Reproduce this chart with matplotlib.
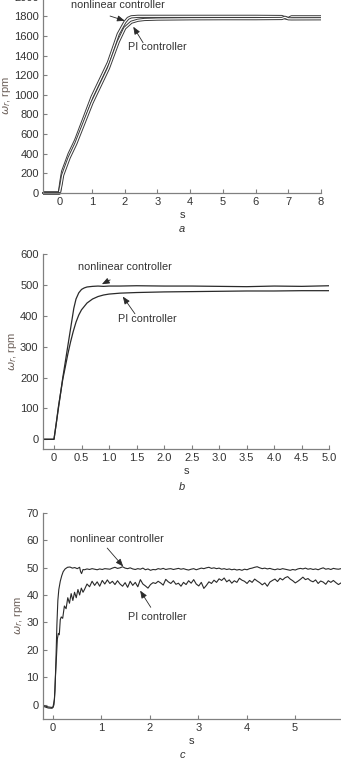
import numpy as np
import matplotlib
matplotlib.use("Agg")
import matplotlib.pyplot as plt

plt.rcParams['font.family'] = ['Liberation Sans', 'DejaVu Sans']

# ---------------- Panel a data ----------------
a_nl_t = [-0.5, 0.0, 0.05, 0.1, 0.3, 0.5, 1.0, 1.5, 1.8, 2.0, 2.1, 2.2, 2.4, 3.0, 4.0, 5.0, 6.0, 6.8, 6.9, 7.0, 7.1, 8.0]
a_nl_v = [0, 0, 120, 220, 400, 540, 980, 1330, 1620, 1740, 1780, 1795, 1800, 1800, 1800, 1800, 1800, 1798, 1785, 1778, 1795, 1795]
a_pi_t = [-0.5, 0.0, 0.05, 0.1, 0.3, 0.5, 1.0, 1.5, 1.8, 2.0, 2.2, 2.4, 2.6, 3.0, 4.0, 5.0, 6.0, 6.8, 6.9, 7.0, 7.1, 8.0]
a_pi_v = [0, 0, 80, 180, 360, 500, 920, 1270, 1540, 1680, 1740, 1760, 1768, 1772, 1775, 1776, 1776, 1778, 1790, 1775, 1774, 1775]

# ---------------- Panel b data ----------------
b_nl_t = [-0.2, 0.0, 0.04, 0.08, 0.12, 0.16, 0.2, 0.24, 0.28, 0.32, 0.36, 0.4, 0.45, 0.5, 0.55, 0.6, 0.65, 0.7, 0.8, 0.9, 1.0, 1.2, 1.5, 2.0, 2.5, 3.0, 3.5, 4.0, 4.5, 5.0]
b_nl_v = [0, 0, 50, 105, 150, 200, 245, 290, 335, 380, 425, 455, 475, 486, 491, 494, 495, 496, 497, 496, 497, 497, 498, 497, 497, 496, 495, 497, 496, 498]
b_pi_t = [-0.2, 0.0, 0.04, 0.08, 0.12, 0.16, 0.2, 0.25, 0.3, 0.35, 0.4, 0.45, 0.5, 0.6, 0.7, 0.8, 0.9, 1.0, 1.2, 1.5, 2.0, 2.5, 3.0, 3.5, 4.0, 4.5, 5.0]
b_pi_v = [0, 0, 50, 100, 150, 195, 230, 275, 315, 350, 380, 403, 420, 442, 455, 463, 468, 471, 474, 476, 478, 479, 480, 481, 481, 482, 482]

# ---------------- Panel c data ----------------
c_nl_t0 = [-0.2, -0.1, -0.02, 0.0, 0.02, 0.04, 0.06, 0.08, 0.10, 0.12, 0.15, 0.18, 0.21, 0.25, 0.3, 0.35, 0.4, 0.45, 0.5, 0.55, 0.57, 0.59, 0.62]
c_nl_v0 = [-0.6, -1.2, -1.3, -1.0, 0, 5, 16, 29, 38, 42, 45, 47, 48.5, 49.5, 50.1, 50.2, 49.8, 50.0, 49.6, 50.1, 48.5, 47.8, 49.3]
c_nl_v1 = [49.2, 49.5, 49.3, 49.6, 49.4, 49.2, 49.5, 49.3, 49.6, 49.5,
           49.4, 49.8, 50.1, 49.7, 49.9, 50.3, 49.8, 49.6, 49.9, 49.5,
           49.3, 49.6, 49.4, 49.8, 49.2, 49.5, 49.0, 49.3, 49.2, 49.6,
           49.4, 49.7, 49.3, 49.5, 49.6, 49.3, 49.5, 49.7, 49.4, 49.6,
           49.3, 49.1, 49.4, 49.6, 49.2, 49.5, 49.8, 49.6, 49.9, 50.1,
           49.7, 49.9, 49.6, 49.8, 49.4, 49.6, 49.3, 49.5, 49.2, 49.4,
           49.1, 49.3, 49.0, 49.4, 49.2, 49.6, 49.8, 50.1, 50.3, 49.9,
           49.6, 49.8, 49.5, 49.7, 49.4, 49.2, 49.5, 49.3, 49.6, 49.4,
           49.2, 49.0, 49.3, 49.1, 49.5, 49.7, 49.5, 49.8, 49.4, 49.6,
           49.3, 49.5, 49.2, 49.6, 49.9, 49.4, 49.6, 49.3, 49.7, 49.5,
           49.4, 49.6]
c_pi_t0 = [-0.2, -0.1, -0.02, 0.0, 0.03, 0.05, 0.07, 0.09, 0.11, 0.13, 0.15, 0.17, 0.2, 0.235, 0.27, 0.305, 0.34, 0.375, 0.41, 0.445, 0.48, 0.515, 0.55, 0.585, 0.62]
c_pi_v0 = [-0.3, -0.8, -1.0, -0.8, 2, 10, 17, 24, 26, 25.5, 31, 32, 31.5, 36, 35, 39, 37, 40.5, 38, 41, 39, 42, 40, 42.5, 41]
c_pi_v1 = [42, 44, 43, 45, 43.5, 44.8, 43.2, 45.3, 44, 45.5,
           44.2, 45, 43.8, 45.2, 44, 43.2, 44.5, 42.8, 45, 43.5,
           44.6, 43, 45.6, 44, 43.3, 42.5, 43.8, 44.5, 44.2, 45,
           44.4, 43.6, 45.7, 44.8, 44.2, 45.2, 43.9, 44.3, 43.2, 44.6,
           43.8, 45.2, 44.3, 45.6, 44, 43.3, 44.6, 42.4, 43.5, 44.8,
           44.2, 45.4, 44.6, 45.9, 45.3, 46.2, 44.8, 45.5, 44.3, 45.2,
           44.6, 46.1, 45.4, 45, 44.2, 45.3, 44.6, 45.8, 45.1, 44.5,
           43.7, 44.4, 43.2, 44.7, 45.3, 45.8, 44.9, 46.1, 45.5, 46.3,
           46.7, 45.8, 45.2, 44.4, 45, 45.7, 46.5, 45.6, 46, 45.2,
           44.8, 45.5, 44.2, 45.1, 44.7, 43.9, 45.2, 44.6, 45.3, 44.5,
           43.8, 44.4]

a_xticks = [0, 1, 2, 3, 4, 5, 6, 7, 8]
a_yticks = list(range(0, 2001, 200))
b_xticks = [0, 0.5, 1.0, 1.5, 2.0, 2.5, 3.0, 3.5, 4.0, 4.5, 5.0]
b_xticklabels = ['0', '0.5', '1.0', '1.5', '2.0', '2.5', '3.0', '3.5', '4.0', '4.5', '5.0']
b_yticks = list(range(0, 601, 100))
c_xticks = [0, 1, 2, 3, 4, 5]
c_yticks = list(range(0, 71, 10))

W, H = 341, 765
fig = plt.figure(figsize=(W / 100, H / 100), dpi=100)

LINE = '#2a2a2a'
SPINE = '#808080'
TXT = '#333333'
FS = 8.0
FSA = 7.8


def px_axes(left, right, top, bottom):
    return fig.add_axes([left / W, 1 - bottom / H, (right - left) / W, (bottom - top) / H])


def style(ax):
    for s in ['top', 'right']:
        ax.spines[s].set_visible(False)
    for s in ['left', 'bottom']:
        ax.spines[s].set_color(SPINE)
        ax.spines[s].set_linewidth(0.9)
    ax.tick_params(direction='in', length=3, width=0.8, color=SPINE,
                   labelsize=FS, labelcolor=TXT, pad=3)
    ax.set_facecolor('none')


def ylab(ax):
    ax.set_ylabel(r'$\omega_r$, rpm', fontsize=FS, color='#6e625c', labelpad=1)


def annot(ax, text, xy, xytext, tx, ty):
    ax.annotate('', xy=xy, xytext=xytext,
                arrowprops=dict(arrowstyle='-|>,head_length=0.45,head_width=0.18',
                                color=LINE, lw=0.6, shrinkA=0, shrinkB=0))
    ax.text(tx, ty, text, fontsize=FSA, color=TXT, ha='center', va='center')


# ---- Panel a ----
ax = px_axes(43, 321, -3.3, 193)
style(ax)
for t, v in [(a_nl_t, a_nl_v), (a_pi_t, a_pi_v)]:
    ax.plot(t, v, color='#3a3a3a', lw=2.3, solid_capstyle='butt', clip_on=False)
    ax.plot(t, v, color='white', lw=0.9, solid_capstyle='butt', clip_on=False)
ax.plot([-0.5, 0.0], [0, 0], color='#3a3a3a', lw=1.4, clip_on=False)
ax.set_xlim(-0.5, 8.0)
ax.set_ylim(0, 2000)
ax.set_xticks(a_xticks)
ax.set_yticks(a_yticks)
ax.set_xlabel('s', fontsize=FS, color=TXT, labelpad=2)
ylab(ax)
annot(ax, 'nonlinear controller', (2.0, 1755), (1.55, 1803), 1.8, 1918)
annot(ax, 'PI controller', (2.26, 1694), (2.56, 1531), 3.0, 1484)
fig.text(182 / W, 1 - 229 / H, 'a', fontsize=FS, color=TXT, style='italic', ha='center', va='center')

# ---- Panel b ----
ax = px_axes(42.7, 329.3, 254.3, 449)
style(ax)
ax.plot(b_nl_t, b_nl_v, color=LINE, lw=0.9)
ax.plot(b_pi_t, b_pi_v, color=LINE, lw=0.9)
ax.set_xlim(-0.205, 5.0)
ax.set_ylim(-31.5, 600)
ax.set_xticks(b_xticks)
ax.set_xticklabels(b_xticklabels)
ax.set_yticks(b_yticks)
ax.set_xlabel('s', fontsize=FS, color=TXT, labelpad=2)
ylab(ax)
annot(ax, 'nonlinear controller', (0.87, 503), (1.02, 517), 1.29, 560)
annot(ax, 'PI controller', (1.25, 463), (1.47, 407), 1.69, 390)
fig.text(182 / W, 1 - 487 / H, 'b', fontsize=FS, color=TXT, style='italic', ha='center', va='center')

# ---- Panel c ----
ax = px_axes(42.7, 341, 512.7, 718.7)
style(ax)
c_nl_t1 = np.linspace(0.65, 5.95, len(c_nl_v1))
c_pi_t1 = np.linspace(0.65, 5.95, len(c_pi_v1))
ax.plot(list(c_nl_t0) + list(c_nl_t1), list(c_nl_v0) + list(c_nl_v1), color=LINE, lw=0.8)
ax.plot(list(c_pi_t0) + list(c_pi_t1), list(c_pi_v0) + list(c_pi_v1), color=LINE, lw=0.8)
ax.set_xlim(-0.213, 5.95)
ax.set_ylim(-5.1, 70)
ax.set_xticks(c_xticks)
ax.set_yticks(c_yticks)
ax.set_xlabel('s', fontsize=FS, color=TXT, labelpad=2)
ylab(ax)
annot(ax, 'nonlinear controller', (1.45, 50.4), (1.12, 57.1), 1.32, 60.4)
annot(ax, 'PI controller', (1.80, 41.6), (2.02, 35.5), 2.16, 31.9)
fig.text(182 / W, 1 - 755 / H, 'c', fontsize=FS, color=TXT, style='italic', ha='center', va='center')

fig.savefig('out.png', dpi=100)
